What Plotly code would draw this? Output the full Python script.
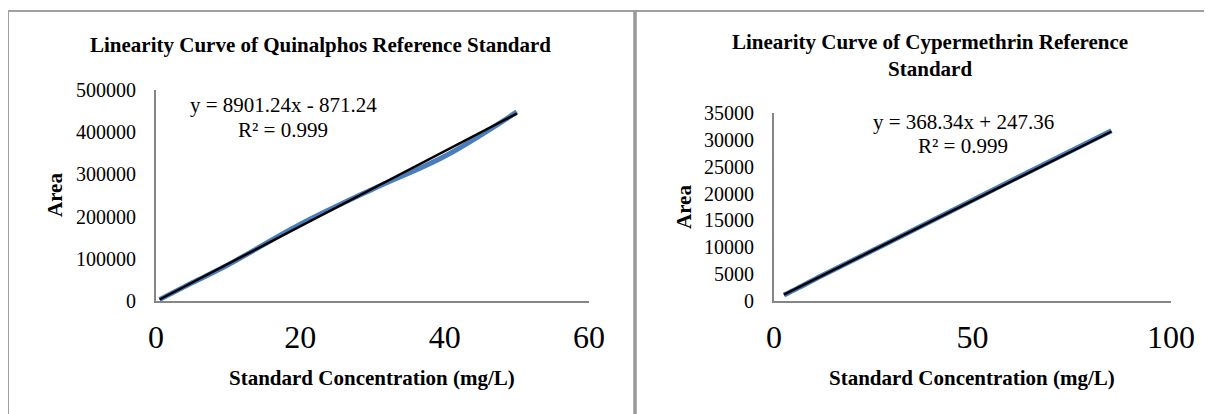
import plotly.graph_objects as go

W, H = 1212, 414
OFF = 8  # page body margin offset

# Data
quin_conc = [0.5, 1, 5, 10, 20, 30, 40, 50]
quin_area = [3500, 8000, 43000, 86000, 182000, 265000, 343000, 448000]
quin_fit = [8901.24, -871.24]  # slope, intercept (as shown)

cyp_conc = [2.5, 6, 12, 30, 60, 85]
cyp_area = [1100, 2400, 4700, 11300, 22500, 31700]
cyp_fit = [368.34, 247.36]

left_xticks = [0, 20, 40, 60]
left_yticks = [0, 100000, 200000, 300000, 400000, 500000]
right_xticks = [0, 50, 100]
right_yticks = [0, 5000, 10000, 15000, 20000, 25000, 30000, 35000]

FONT = "Liberation Serif"
BLUE = "#4A7EBB"
AXC = "#868686"

def px(x):
    return (x - OFF) / W

def py(y):
    return 1 - (y - OFF) / H

fig = go.Figure()

# Quinalphos
fig.add_trace(go.Scatter(x=quin_conc, y=quin_area, mode="lines", line=dict(color=BLUE, width=5),
                         xaxis="x", yaxis="y", showlegend=False, line_shape="spline"))
qx = [quin_conc[0], quin_conc[-1]]
fig.add_trace(go.Scatter(x=qx, y=[quin_fit[0] * v + quin_fit[1] for v in qx], mode="lines",
                         line=dict(color="black", width=2.5), xaxis="x", yaxis="y", showlegend=False))
# Cypermethrin
fig.add_trace(go.Scatter(x=cyp_conc, y=cyp_area, mode="lines", line=dict(color=BLUE, width=5),
                         xaxis="x2", yaxis="y2", showlegend=False, line_shape="spline"))
cx = [cyp_conc[0], cyp_conc[-1]]
fig.add_trace(go.Scatter(x=cx, y=[cyp_fit[0] * v + cyp_fit[1] for v in cx], mode="lines",
                         line=dict(color="black", width=2.5), xaxis="x2", yaxis="y2", showlegend=False))

xcommon = dict(showgrid=False, zeroline=False, showline=True, linecolor=AXC, linewidth=2,
               ticks="", tickformat="d", tickfont=dict(family=FONT, size=32, color="black"),
               ticklabelstandoff=7, automargin=False)
ycommon = dict(showgrid=False, zeroline=False, showline=True, linecolor=AXC, linewidth=2,
               ticks="", tickformat="d", tickfont=dict(family=FONT, size=20, color="black"),
               ticklabelstandoff=14, automargin=False)

fig.update_layout(
    width=W, height=H, margin=dict(l=0, r=0, t=0, b=0, pad=0, autoexpand=False),
    paper_bgcolor="white", plot_bgcolor="white",
    xaxis=dict(domain=[px(156), px(589)], range=[0, 60], tickvals=left_xticks, anchor="y", **xcommon),
    yaxis=dict(domain=[py(301), py(90)], range=[0, 500000], tickvals=left_yticks, anchor="x", **ycommon),
    xaxis2=dict(domain=[px(774), px(1171)], range=[0, 100], tickvals=right_xticks, anchor="y2", **xcommon),
    yaxis2=dict(domain=[py(301), py(113)], range=[0, 35000], tickvals=right_yticks, anchor="x2", **ycommon),
)

def ann(text, x, y, size=21, bold=False, angle=0):
    fig.add_annotation(text=f"<b>{text}</b>" if bold else text, x=px(x), y=py(y), xref="paper", yref="paper",
                       showarrow=False, textangle=angle, font=dict(family=FONT, size=size, color="black"),
                       xanchor="center", yanchor="middle")

ann("Linearity Curve of Quinalphos Reference Standard", 320, 45, 21, True)
ann("Linearity Curve of Cypermethrin Reference<br>Standard", 930, 56, 21, True)
ann("y = 8901.24x - 871.24", 283, 105, 21)
ann("R² = 0.999", 283, 130, 21)
ann("y = 368.34x + 247.36", 963, 122, 21)
ann("R² = 0.999", 963, 146, 21)
ann("Standard Concentration (mg/L)", 372, 378, 21, True)
ann("Standard Concentration (mg/L)", 972, 378, 21, True)
ann("Area", 55, 195, 21, True, -90)
ann("Area", 684, 207, 21, True, -90)

# frame lines
fig.add_shape(type="line", xref="paper", yref="paper", x0=px(8), x1=1, y0=py(11), y1=py(11),
              line=dict(color="#A0A0A0", width=2))
fig.add_shape(type="line", xref="paper", yref="paper", x0=px(8), x1=px(8), y0=py(11), y1=0,
              line=dict(color="#A0A0A0", width=2))
fig.add_shape(type="line", xref="paper", yref="paper", x0=px(635), x1=px(635), y0=py(11), y1=0,
              line=dict(color="#999999", width=3.5))

fig.write_html("out.html")
